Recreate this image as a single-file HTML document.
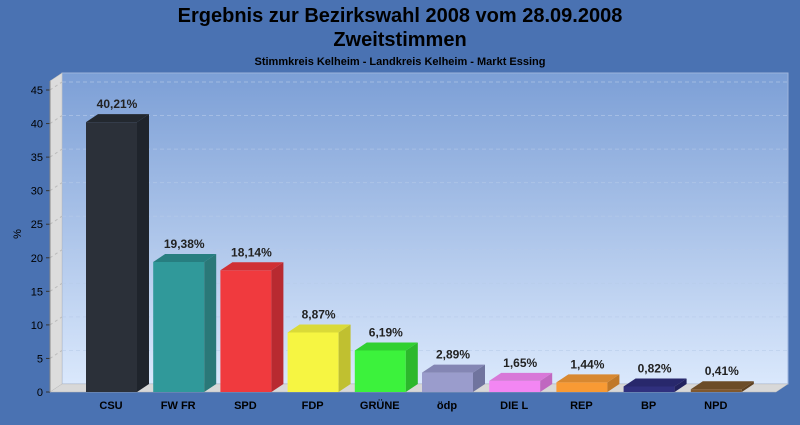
<!DOCTYPE html>
<html><head><meta charset="utf-8"><style>
body{margin:0;background:#4a72b2;width:800px;height:420px;overflow:hidden;font-family:"Liberation Sans",sans-serif}
</style></head><body>
<svg id="s" width="800" height="420" xmlns="http://www.w3.org/2000/svg" font-family="Liberation Sans, sans-serif">
<defs>
<linearGradient id="bg" x1="0" y1="0" x2="0" y2="1"><stop offset="0" stop-color="#7c9fd6"/><stop offset="1" stop-color="#dae8fc"/></linearGradient>
</defs>
<rect width="800" height="420" fill="#4a72b2"/>
<text x="400" y="22" text-anchor="middle" font-size="20" font-weight="bold" fill="#000">Ergebnis zur Bezirkswahl 2008 vom 28.09.2008</text>
<text x="400" y="46" text-anchor="middle" font-size="20" font-weight="bold" fill="#000">Zweitstimmen</text>
<text x="400" y="65" text-anchor="middle" font-size="11" font-weight="bold" fill="#000">Stimmkreis Kelheim - Landkreis Kelheim - Markt Essing</text>
<rect x="62" y="73" width="726" height="311" fill="url(#bg)" stroke="#9db4dc" stroke-width="1"/>
<polygon points="50,81 62,73 62,384 50,392" fill="#dcdcdc" stroke="#bbb" stroke-width="0.5"/>
<polygon points="50,392 62,384 788,384 776,392" fill="#d8d8d8" stroke="#bbb" stroke-width="0.5"/>
<g id="g"></g>
<text transform="translate(21,234) rotate(-90)" text-anchor="middle" font-size="11" fill="#000">%</text>
</svg>
<script>
var g=document.getElementById('g'),h='',k=6.711;
for(var v=0;v<=45;v+=5){var y=392-v*k;
 if(v>0)h+='<line x1="62" y1="'+(y-8)+'" x2="788" y2="'+(y-8)+'" stroke="#b8cbea" stroke-opacity="0.6" stroke-dasharray="4,3" stroke-width="1"/><line x1="50" y1="'+y+'" x2="62" y2="'+(y-8)+'" stroke="#bbb" stroke-dasharray="3,3"/>';
 h+='<line x1="46" y1="'+y+'" x2="50" y2="'+y+'" stroke="#333"/><text x="43" y="'+(y+4)+'" text-anchor="end" font-size="11" fill="#000">'+v+'</text>';}
h+='<line x1="50" y1="81" x2="50" y2="392" stroke="#888"/>';
var d=[["CSU",40.21,"#2b3039","#1f242c","#23282f"],["FW FR",19.38,"#30999a","#2a7878","#277e80"],["SPD",18.14,"#f03a3e","#b82a30","#d03034"],["FDP",8.87,"#f6f542","#c0c030","#dada38"],["GRÜNE",6.19,"#3cf23c","#2cb82c","#30d030"],["ödp",2.89,"#9a9ccc","#70749e","#8486b4"],["DIE L",1.65,"#f386f3","#c068c0","#d878d8"],["REP",1.44,"#f89a34","#c07828","#d88830"],["BP",0.82,"#30307e","#22225e","#28286c"],["NPD",0.41,"#80582e","#5e4020","#6c4c28"]];
for(var i=0;i<d.length;i++){var x=86+i*67.2,w=51,t=392-d[i][1]*k;
 h+='<rect x="'+x+'" y="'+t+'" width="'+w+'" height="'+(392-t)+'" fill="'+d[i][2]+'"/>';
 h+='<polygon points="'+(x+w)+','+t+' '+(x+w+12)+','+(t-8)+' '+(x+w+12)+','+(384)+' '+(x+w)+',392" fill="'+d[i][3]+'"/>';
 h+='<polygon points="'+x+','+t+' '+(x+12)+','+(t-8)+' '+(x+w+12)+','+(t-8)+' '+(x+w)+','+t+'" fill="'+d[i][4]+'"/>';
 h+='<text x="'+(x+31)+'" y="'+(t-14)+'" text-anchor="middle" font-size="12" font-weight="bold" fill="#222">'+d[i][1].toFixed(2).replace('.',',')+'%</text>';
 h+='<text x="'+(x+25)+'" y="409" text-anchor="middle" font-size="11" font-weight="bold" fill="#000">'+d[i][0]+'</text>';}
g.innerHTML=h;
</script>
</body></html>
